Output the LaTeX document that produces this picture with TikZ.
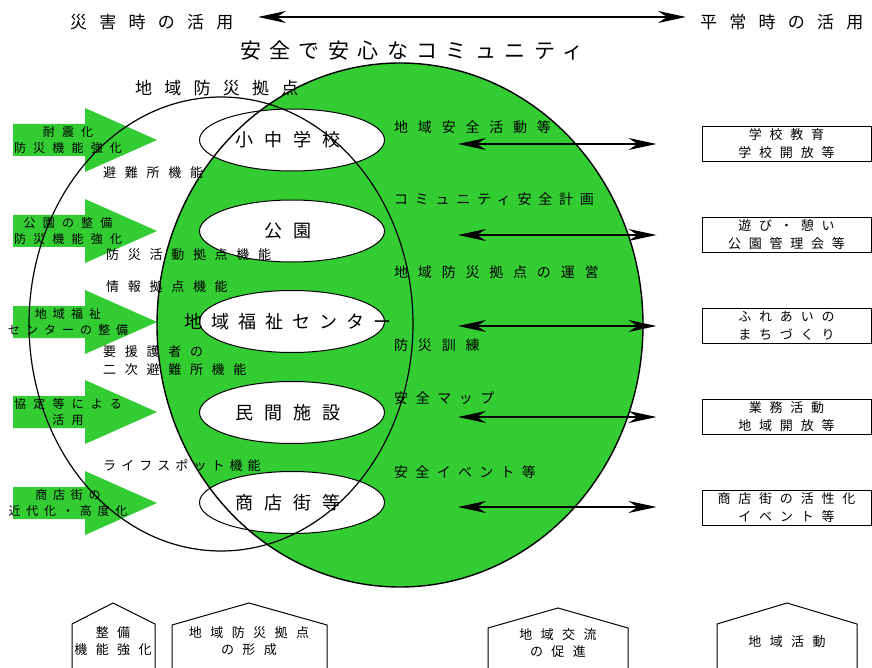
\documentclass[tikz,border=0pt]{standalone}
\usepackage{fontspec}
\usetikzlibrary{shapes.geometric,arrows.meta}
\newfontfamily\jp{Noto Sans CJK JP}
\newcommand\jpfont[3]{\jp\fontsize{#1}{#2}\selectfont\addfontfeature{LetterSpace=#3}}
\definecolor{areagreen}{RGB}{51,204,51}

\begin{document}
\begin{tikzpicture}[x=1pt,y=-1pt,
  txt/.style={inner sep=0pt,anchor=west},
  headtxt/.style={txt,font=\jpfont{17}{20}{72}},
  titletxt/.style={txt,font=\jpfont{21}{24}{40}},
  midtxt/.style={txt,font=\jpfont{14}{16}{#1}},
  midtxt/.default=70,
  fntxt/.style={txt,align=left,font=\jpfont{13}{18}{#1}},
  fntxt/.default=67,
  arrtxt/.style={inner sep=0pt,align=center,font=\jpfont{12}{16}{#1}},
  arrtxt/.default=60,
  placetxt/.style={inner sep=0pt,xshift=-4pt,font=\jpfont{18}{20}{60}},
  place/.style={ellipse,draw=black,fill=white,line width=1pt,minimum width=185pt,minimum height=62pt,inner sep=0pt},
  infobox/.style={draw=black,line width=1pt,minimum width=169pt,minimum height=35pt,inner sep=0pt,align=center,font=\jpfont{13}{18}{60}},
  house/.style={draw=black,line width=1pt},
  housetxt/.style={inner sep=0pt,align=center,font=\jpfont{13}{17}{65}},
  dbl/.style={{Stealth[length=28pt,width=12pt,inset=9pt]}-{Stealth[length=28pt,width=12pt,inset=9pt]},line width=1.2pt}]
\useasboundingbox (0,0) rectangle (872,668);

\foreach \y in {140,231,322,412,503}
  \fill[areagreen] (13,\y-16) -- (85,\y-16) -- (85,\y-32) -- (157,\y) -- (85,\y+32) -- (85,\y+16) -- (13,\y+16) -- cycle;

\fill[areagreen] (400,325) ellipse (243pt and 262pt);

\node[place,label={[placetxt]center:小中学校}] (school) at (292,140) {};
\node[place,label={[placetxt]center:公園}] (park) at (292,231) {};
\node[place,label={[placetxt,font=\jpfont{18}{20}{50}]center:地域福祉センター}] (welfare) at (292,321.5) {};
\node[place,label={[placetxt]center:民間施設}] (private) at (292,412.5) {};
\node[place,label={[placetxt]center:商店街等}] (shops) at (292,502.5) {};

\draw[line width=1.4pt] (400,325) ellipse (243pt and 262pt);
\draw[line width=1.2pt] (221,324) ellipse (192pt and 227pt);

\node[headtxt] (disaster) at (70,22) {災害時の活用};
\node[headtxt] (normal) at (700,22) {平常時の活用};
\coordinate (topl) at (258,17);
\coordinate (topr) at (686,17);
\draw[dbl,line width=1.5pt] (topl) -- (topr);
\node[titletxt] (title) at (240,51) {安全で安心なコミュニティ};
\node[headtxt] (base) at (135,88) {地域防災拠点};

\node[arrtxt] (a1) at (68,140) {耐震化\\防災機能強化};
\node[arrtxt] (a2) at (68,231) {公園の整備\\防災機能強化};
\node[arrtxt=50] (a3) at (68,322) {地域福祉\\センターの整備};
\node[arrtxt] (a4) at (68,412) {協定等による\\活用};
\node[arrtxt=48] (a5) at (68,503) {商店街の\\近代化・高度化};

\node[fntxt] (f1) at (103,173) {避難所機能};
\node[fntxt] (f2) at (106,255) {防災活動拠点機能};
\node[fntxt] (f3) at (106,287) {情報拠点機能};
\node[fntxt] (f4) at (103,361) {要援護者の\\二次避難所機能};
\node[fntxt=39] (f5) at (103,466) {ライフスポット機能};

\node[midtxt] (m1) at (394,127) {地域安全活動等};
\node[midtxt=48] (m2) at (394,199) {コミュニティ安全計画};
\node[midtxt] (m3) at (394,272) {地域防災拠点の運営};
\node[midtxt] (m4) at (394,345) {防災訓練};
\node[midtxt=54] (m5) at (394,398) {安全マップ};
\node[midtxt=52] (m6) at (394,472) {安全イベント等};

\node[infobox] (b1) at (786.5,144) {学校教育\\学校開放等};
\node[infobox] (b2) at (786.5,235) {遊び・憩い\\公園管理会等};
\node[infobox] (b3) at (786.5,325.5) {ふれあいの\\まちづくり};
\node[infobox] (b4) at (786.5,416.5) {業務活動\\地域開放等};
\node[infobox] (b5) at (786.5,507.5) {商店街の活性化\\イベント等};

\foreach \i/\y in {1/144,2/235,3/326,4/417,5/507} {
  \coordinate (s\i) at (458,\y);
  \draw[dbl,shorten >=45pt] (s\i) -- (s\i -| b\i.west);
}

\draw[house] (72,668) -- (72,624) -- (113,603) -- (155,624) -- (155,668);
\draw[house] (172,668) -- (172,625) -- (249,603) -- (327,625) -- (327,668);
\draw[house] (488,668) -- (488,628) -- (558,608) -- (628,628) -- (628,668);
\draw[house] (717,668) -- (717,624) -- (787,603) -- (857,624) -- (857,668);
\node[housetxt] (h1) at (113,641.5) {整備\\機能強化};
\node[housetxt] (h2) at (249,641.5) {地域防災拠点\\の形成};
\node[housetxt] (h3) at (558,643.5) {地域交流\\の促進};
\node[housetxt] (h4) at (787,642) {地域活動};
\end{tikzpicture}
\end{document}
